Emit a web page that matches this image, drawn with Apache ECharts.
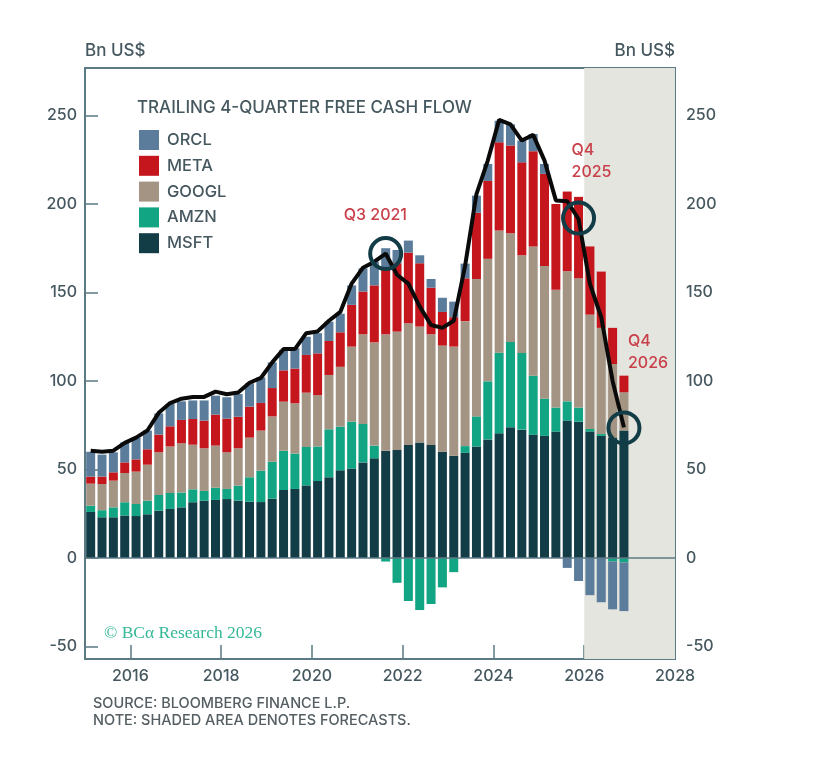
<!DOCTYPE html>
<html lang="en">
<head>
    <meta charset="UTF-8">
    <title>Trailing 4-Quarter Free Cash Flow</title>
    <script src="https://cdn.jsdelivr.net/npm/echarts@6/dist/echarts.min.js"></script>
    <style>
        html, body { margin: 0; padding: 0; background: #fff; }
        #chart { width: 820px; height: 765px; }
    </style>
</head>
<body>
    <div id="chart"></div>
    <script>
        // one slot per quarter, 2027 stays empty so the axis runs on to 2028
        const quarters = [
            '2015Q1', '2015Q2', '2015Q3', '2015Q4', '2016Q1', '2016Q2', '2016Q3', '2016Q4',
            '2017Q1', '2017Q2', '2017Q3', '2017Q4', '2018Q1', '2018Q2', '2018Q3', '2018Q4',
            '2019Q1', '2019Q2', '2019Q3', '2019Q4', '2020Q1', '2020Q2', '2020Q3', '2020Q4',
            '2021Q1', '2021Q2', '2021Q3', '2021Q4', '2022Q1', '2022Q2', '2022Q3', '2022Q4',
            '2023Q1', '2023Q2', '2023Q3', '2023Q4', '2024Q1', '2024Q2', '2024Q3', '2024Q4',
            '2025Q1', '2025Q2', '2025Q3', '2025Q4', '2026Q1', '2026Q2', '2026Q3', '2026Q4',
            '2027Q1', '2027Q2', '2027Q3', '2027Q4'
        ];
        // Bn US$, Q1 2015 to Q4 2026
        const msft = [26, 23, 23, 24, 23.7, 24.7, 26.7, 27.7, 28.6, 31.5, 32.4, 32.8, 33.3, 32.4, 31.8, 31.6,
            33.5, 38.4, 39, 41, 43.5, 45.6, 49.5, 50.5, 54, 56.3, 60.6, 61, 63.8, 65.3, 63.8, 60,
            57.8, 59.4, 63, 67, 70.4, 73.8, 72.5, 69.7, 69, 71.4, 77.6, 77, 71.4, 69, 68, 72];
        const amzn = [3.6, 4, 5.6, 7.5, 6.8, 7.7, 8.9, 9, 8.4, 7.3, 5.5, 6.9, 5.7, 8.5, 13.8, 17.7,
            20.9, 22.2, 20, 21.7, 19.5, 27.1, 24.7, 26.5, 21.7, 7.2, -2, -14, -24.3, -29.4, -26, -16.6,
            -8, 3.8, 17, 32.8, 45.6, 48.2, 43.3, 33.3, 21, 13.6, 10.9, 8, 1.5, 1, -2, -2.5];
        const googl = [12.4, 14.8, 15.1, 16.5, 18.3, 20.3, 24.1, 26.3, 27.8, 25.2, 24.1, 23.8, 20.7, 21.1, 22.4, 22.7,
            25.6, 27.7, 28.4, 30.7, 29, 30.7, 33.8, 42.4, 50.7, 58.3, 65.8, 66.9, 68.8, 65.4, 62.6, 60,
            61.6, 70.6, 77.6, 69.2, 69, 61.4, 55.2, 73, 75, 66.6, 73.5, 73, 64.6, 60, 41.6, 21.6];
        const meta = [4, 4.2, 4.7, 6, 6.9, 8.7, 10, 11.4, 13.2, 14.5, 15.6, 17.5, 19, 17.8, 17.5, 15.6,
            16, 17.7, 19.6, 21.3, 23.6, 19.2, 19.5, 23.6, 24.1, 32.2, 37.2, 38.6, 39.9, 35.8, 26.3, 19,
            16.6, 24.2, 37.4, 44, 49.8, 49.6, 52.5, 53.8, 52, 48.4, 45, 46, 38.5, 31.8, 20.4, 9.4];
        const orcl = [14, 12.4, 11.3, 11.3, 12.3, 10.6, 12, 12.6, 10.5, 10.5, 11.4, 10.7, 12.1, 12.8, 13.2, 14.4,
            14.5, 11.5, 11.5, 10.3, 11.4, 10.9, 10.5, 11, 13.1, 13.4, 11.4, 7.5, 6.8, 4.5, 4.9, 8,
            8.8, 8.3, 9.7, 9.6, 12.2, 12, 12.3, 9.7, 5.6, 0, -5.6, -13, -21, -25, -27, -27.5];
        const total = [60.6, 60, 60.6, 65, 68, 72, 82, 87.5, 90, 91, 91, 94, 92.5, 93.5, 99, 101.7,
            110.5, 118, 118, 127, 128, 134, 139, 155, 164, 167.4, 172, 160, 155, 142, 131.6, 130,
            134, 165, 205.6, 224.5, 247.5, 245, 235.8, 239, 224.5, 202, 201.5, 191.5, 154.8, 136, 100, 73.8];

        const calloutNames = ['Q3 2021', 'Q4\n2025', 'Q4\n2026'];
        const calloutQuarters = ['2021Q3', '2025Q4', '2026Q4'];
        const calloutValues = [172, 192, 73.5];

        const xTicks = [2016, 2018, 2020, 2022, 2024, 2026, 2028];
        const yTicks = [-50, 0, 50, 100, 150, 200, 250];
        const forecastYears = [2026, 2028];

        const inkColor = '#46585f';
        const frameColor = '#5c7a84';
        const chartFont = 'Inter, sans-serif';

        function stackSeries(name, values, color, extra) {
            return Object.assign({
                name: name,
                type: 'bar',
                stack: 'fcf',
                barWidth: 9,
                itemStyle: { color: color },
                data: values
            }, extra);
        }

        const yAxisBase = {
            type: 'value',
            min: -57.06,
            max: 276.8,
            name: 'Bn US$',
            nameLocation: 'end',
            nameGap: 9,
            axisLine: { show: false, onZero: false },
            axisTick: { show: true, inside: true, length: 13, customValues: yTicks, lineStyle: { color: frameColor, width: 1.5 } },
            splitLine: { show: false }
        };

        const chart = echarts.init(document.getElementById('chart'));
        chart.setOption({
            animation: false,
            backgroundColor: '#fff',
            textStyle: { fontFamily: chartFont },
            grid: { left: 85, right: 145, top: 68, height: 591, show: true, borderColor: frameColor, borderWidth: 2, backgroundColor: 'transparent' },
            legend: {
                orient: 'vertical',
                left: 139,
                top: 130,
                padding: 0,
                itemWidth: 20,
                itemHeight: 20,
                itemGap: 5.8,
                selectedMode: false,
                icon: 'rect',
                textStyle: { color: inkColor, fontSize: 16.5, fontWeight: 500, fontFamily: chartFont, padding: [0, 0, 0, 3] },
                data: ['ORCL', 'META', 'GOOGL', 'AMZN', 'MSFT']
            },
            xAxis: [
                {
                    // quarter slots for the marks
                    type: 'category',
                    data: quarters,
                    show: false
                },
                {
                    // calendar scale for the ticks and the forecast shading
                    type: 'value',
                    position: 'bottom',
                    min: 2015,
                    max: 2028,
                    axisLine: { show: false, onZero: false },
                    axisTick: { show: true, inside: true, length: 14, customValues: xTicks, lineStyle: { color: frameColor, width: 1.5 } },
                    axisLabel: {
                        customValues: xTicks,
                        formatter: v => String(v),
                        color: inkColor,
                        fontSize: 16,
                        fontWeight: 500,
                        margin: 9
                    },
                    splitLine: { show: false }
                }
            ],
            yAxis: [
                Object.assign({}, yAxisBase, {
                    position: 'left',
                    nameTextStyle: { align: 'left', color: inkColor, fontSize: 17, fontWeight: 500 },
                    axisLabel: { customValues: yTicks, color: inkColor, fontSize: 16, fontWeight: 500, margin: 8 }
                }),
                Object.assign({}, yAxisBase, {
                    position: 'right',
                    nameTextStyle: { align: 'right', color: inkColor, fontSize: 17, fontWeight: 500 },
                    axisLabel: { customValues: yTicks, color: inkColor, fontSize: 16, fontWeight: 500, margin: 11 }
                })
            ],
            series: [
                {
                    // carries the shading on the calendar axis, the line itself is not drawn
                    name: 'Forecast',
                    type: 'line',
                    xAxisIndex: 1,
                    symbol: 'none',
                    lineStyle: { opacity: 0 },
                    data: forecastYears.map(y => [y, 0]),
                    markArea: {
                        silent: true,
                        itemStyle: { color: '#e5e5df' },
                        data: [[{ xAxis: forecastYears[0] }, { xAxis: forecastYears[1] }]]
                    }
                },
                stackSeries('MSFT', msft, '#123c46', {
                    markLine: {
                        silent: true,
                        symbol: 'none',
                        label: { show: false },
                        lineStyle: { color: frameColor, width: 1.5, type: 'solid' },
                        data: [{ yAxis: 0 }]
                    }
                }),
                stackSeries('AMZN', amzn, '#12a583'),
                stackSeries('GOOGL', googl, '#a39483'),
                stackSeries('META', meta, '#c4161c'),
                stackSeries('ORCL', orcl, '#5b7d9b'),
                {
                    name: 'Total',
                    type: 'line',
                    z: 4,
                    symbol: 'none',
                    lineStyle: { color: '#0a0a0a', width: 4 },
                    data: total
                },
                {
                    name: 'Callouts',
                    type: 'scatter',
                    z: 5,
                    symbol: 'circle',
                    symbolSize: 31,
                    itemStyle: { color: 'rgba(0,0,0,0)', borderColor: '#123c46', borderWidth: 4, opacity: 1 },
                    label: {
                        show: true,
                        position: 'inside',
                        formatter: p => p.name,
                        color: '#c8404a',
                        fontSize: 16,
                        fontWeight: 500,
                        lineHeight: 22,
                        align: 'left',
                        verticalAlign: 'middle'
                    },
                    data: [
                        { name: calloutNames[0], value: [calloutQuarters[0], calloutValues[0]], label: { offset: [-42, -38] } },
                        { name: calloutNames[1], value: [calloutQuarters[1], calloutValues[1]], label: { offset: [-7, -57] } },
                        { name: calloutNames[2], value: [calloutQuarters[2], calloutValues[2]], label: { offset: [4, -76] } }
                    ]
                }
            ],
            graphic: [
                { type: 'text', left: 137, top: 99, style: { text: 'TRAILING 4-QUARTER FREE CASH FLOW', fill: inkColor, font: '500 17px Inter, sans-serif' } },
                { type: 'text', left: 104, top: 624, style: { text: '© BCα Research 2026', fill: '#35b898', font: '17.5px "Liberation Serif", serif' } },
                { type: 'text', left: 93, top: 696, style: { text: 'SOURCE: BLOOMBERG FINANCE L.P.', fill: '#555f63', font: '500 14.5px Inter, sans-serif' } },
                { type: 'text', left: 93, top: 713, style: { text: 'NOTE: SHADED AREA DENOTES FORECASTS.', fill: '#555f63', font: '500 14.5px Inter, sans-serif' } }
            ]
        });
    </script>
</body>
</html>
